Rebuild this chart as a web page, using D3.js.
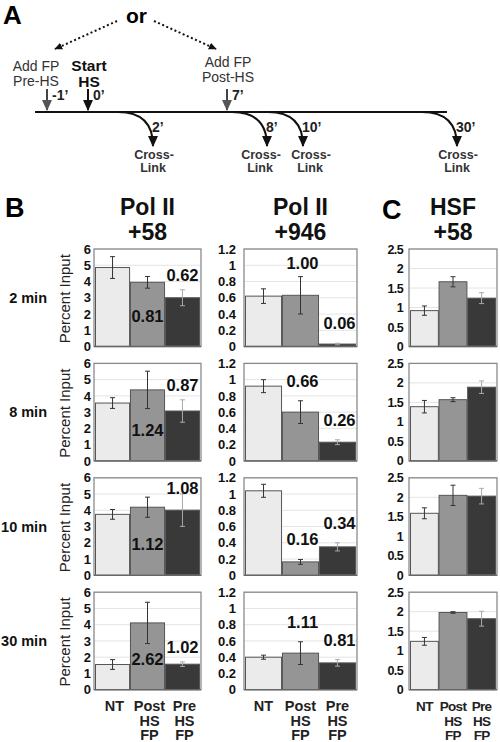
<!DOCTYPE html>
<html><head><meta charset="utf-8">
<script src="https://cdn.jsdelivr.net/npm/d3@7"></script>
<style>body{margin:0;background:#fff} svg{display:block;font-family:"Liberation Sans",Arial,Helvetica,sans-serif}</style>
</head><body>
<svg id="c" width="500" height="742"></svg>
<script>
// ---------- DATA ----------
const categories = ["NT", "Post HS FP", "Pre HS FP"];
const timepoints = ["2 min", "8 min", "10 min", "30 min"];
const panelTitles = [["Pol II", "+58"], ["Pol II", "+946"], ["HSF", "+58"]];

const polII58 = [[4.86, 3.95, 3.00], [3.56, 4.37, 3.07], [3.75, 4.19, 4.01], [1.55, 4.11, 1.57]];
const polII58Err = [[0.67, 0.36, 0.49], [0.33, 1.15, 0.69], [0.30, 0.62, 1.00], [0.30, 1.27, 0.14]];
const polII58Ratio = [["0.81", "0.62"], ["1.24", "0.87"], ["1.12", "1.08"], ["2.62", "1.02"]];

const polII946 = [[0.62, 0.63, 0.03], [0.92, 0.60, 0.23], [1.04, 0.165, 0.35], [0.40, 0.45, 0.33]];
const polII946Err = [[0.09, 0.23, 0.01], [0.08, 0.14, 0.03], [0.08, 0.03, 0.05], [0.025, 0.14, 0.04]];
const polII946Ratio = [["1.00", "0.06"], ["0.66", "0.26"], ["0.16", "0.34"], ["1.11", "0.81"]];

const hsf58 = [[0.92, 1.66, 1.24], [1.39, 1.57, 1.89], [1.59, 2.05, 2.03], [1.24, 1.98, 1.82]];
const hsf58Err = [[0.12, 0.13, 0.14], [0.16, 0.05, 0.16], [0.14, 0.26, 0.20], [0.10, 0.02, 0.19]];

const polII58Ticks = [0, 1, 2, 3, 4, 5, 6];
const polII946Ticks = [0, 0.2, 0.4, 0.6, 0.8, 1, 1.2];
const hsf58Ticks = [0, 0.5, 1, 1.5, 2, 2.5];

// Panel A schematic
const addEvents = [
  { minute: -1, lines: ["Add FP", "Pre-HS"], tag: "-1\u2019", kind: "pre" },
  { minute: 0, lines: ["Start", "HS"], tag: "0\u2019", kind: "start" },
  { minute: 7, lines: ["Add FP", "Post-HS"], tag: "7\u2019", kind: "post" }
];
const crossLinkMinutes = [2, 8, 10, 30];

const barColors = ["#ebebeb", "#959595", "#393939"];

// ---------- DRAW ----------
const svg = d3.select("#c");
const defs = svg.append("defs");
function marker(id, color, size) {
  defs.append("marker").attr("id", id).attr("viewBox", "0 0 10 10")
    .attr("refX", 9).attr("refY", 5).attr("markerWidth", size).attr("markerHeight", size)
    .attr("markerUnits", "userSpaceOnUse").attr("orient", "auto")
    .append("path").attr("d", "M0,0.5 L10,5 L0,9.5 z").attr("fill", color);
}
marker("ahBlack", "#111", 11);
marker("ahGray", "#555", 11);
marker("ahDot", "#111", 8);

// ---- Panel A ----
svg.append("text").attr("x", 3).attr("y", 24).attr("font-size", 26).attr("font-weight", "bold").text("A");
svg.append("text").attr("x", 136.5).attr("y", 23).attr("text-anchor", "middle")
  .attr("font-size", 21).attr("font-weight", "bold").text("or");

const tx = d3.scaleLinear().domain([-1, 0, 2, 7, 8, 10, 30]).range([47, 88, 153, 227, 267, 303, 457]);
const lineY = 112;

// dotted arrows from "or"
svg.append("line").attr("x1", 117).attr("y1", 21).attr("x2", tx(-1) + 8).attr("y2", 49)
  .attr("stroke", "#111").attr("stroke-width", 2).attr("stroke-dasharray", "2,2.5").attr("marker-end", "url(#ahDot)");
svg.append("line").attr("x1", 154).attr("y1", 21).attr("x2", tx(7) - 11).attr("y2", 49)
  .attr("stroke", "#111").attr("stroke-width", 2).attr("stroke-dasharray", "2,2.5").attr("marker-end", "url(#ahDot)");

// timeline
svg.append("line").attr("x1", 35).attr("x2", 447).attr("y1", lineY).attr("y2", lineY)
  .attr("stroke", "#111").attr("stroke-width", 2);

addEvents.forEach(ev => {
  const x = tx(ev.minute);
  const isStart = ev.kind === "start";
  const labX = ev.kind === "pre" ? x - 11 : x + 1;
  const base = ev.kind === "post" ? 67 : 71;
  ev.lines.forEach((t, i) => {
    svg.append("text").attr("x", labX).attr("y", base + i * (isStart ? 15.5 : 14.5))
      .attr("text-anchor", "middle").attr("font-size", isStart ? 15.5 : 14)
      .attr("font-weight", isStart ? "bold" : "normal")
      .attr("fill", isStart ? "#111" : "#333").text(t);
  });
  svg.append("line").attr("x1", x).attr("x2", x).attr("y1", 89).attr("y2", 110)
    .attr("stroke", isStart ? "#111" : "#444").attr("stroke-width", 2)
    .attr("marker-end", isStart ? "url(#ahBlack)" : "url(#ahGray)");
  svg.append("text").attr("x", x + 5).attr("y", 100).attr("font-size", 14)
    .attr("font-weight", "bold").attr("fill", "#222").text(ev.tag);
});

// cross-link curves
const clX = crossLinkMinutes.map(m => tx(m));
const clLabelX = clX.slice();
for (let i = 1; i < clLabelX.length; i++) {
  const gap = clLabelX[i] - clLabelX[i - 1];
  if (gap < 50) { const s = (50 - gap) / 2; clLabelX[i - 1] -= s; clLabelX[i] += s; }
}
crossLinkMinutes.forEach((m, i) => {
  const x1 = clX[i], x0 = x1 - 35;
  svg.append("path").attr("d", `M${x0},${lineY} Q${x1},${lineY} ${x1},${146}`)
    .attr("fill", "none").attr("stroke", "#111").attr("stroke-width", 2).attr("marker-end", "url(#ahBlack)");
  svg.append("text").attr("x", x1 - 1).attr("y", 132).attr("font-size", 14).attr("font-weight", "bold")
    .attr("fill", "#222").text(m + "\u2019");
  ["Cross-", "Link"].forEach((t, j) => {
    svg.append("text").attr("x", clLabelX[i] + (j ? 0 : 1)).attr("y", 159 + j * 13).attr("text-anchor", "middle")
      .attr("font-size", 12.5).attr("font-weight", "bold").attr("fill", "#333").text(t);
  });
});

// ---- Panels B & C ----
svg.append("text").attr("x", 5).attr("y", 217).attr("font-size", 27).attr("font-weight", "bold").text("B");
svg.append("text").attr("x", 382).attr("y", 219).attr("font-size", 27).attr("font-weight", "bold").text("C");

const panels = [
  { values: polII58, errs: polII58Err, ratios: polII58Ratio, ticks: polII58Ticks, box: [94, 201],
    fmt: d3.format("d"), pad: 3, mode: "inside", tickSize: 13, catStyle: { size: 14.5, ls: 0 } },
  { values: polII946, errs: polII946Err, ratios: polII946Ratio, ticks: polII946Ticks, box: [244, 357],
    fmt: d => d3.format("~g")(d), pad: 8, mode: "above", tickSize: 13, catStyle: { size: 14.5, ls: 0 } },
  { values: hsf58, errs: hsf58Err, ratios: null, ticks: hsf58Ticks, box: [409, 497],
    fmt: d => d3.format("~g")(d), pad: 6, mode: null, tickSize: 12.5, catStyle: { size: 13.5, ls: -0.7 } }
];

const rowTop = i => 249 + i * 114.4;
const rowH = 97.5;

panels.forEach((p, pi) => {
  const xs = d3.scaleBand().domain(categories).range([p.box[0] + 1.5, p.box[1] - 1.5]).paddingInner(0.025);
  const cx = (p.box[0] + p.box[1]) / 2;
  // title
  panelTitles[pi].forEach((t, j) => {
    svg.append("text").attr("x", cx).attr("y", 215 + j * 25).attr("text-anchor", "middle")
      .attr("font-size", 23).attr("font-weight", "bold").attr("fill", "#111").text(t);
  });

  timepoints.forEach((tp, ri) => {
    const top = rowTop(ri), bot = top + rowH;
    const y = d3.scaleLinear().domain([0, d3.max(p.ticks)]).range([bot, top]);
    const g = svg.append("g");
    // gridlines
    g.selectAll("line.grid").data(p.ticks.filter(t => t > 0)).join("line")
      .attr("x1", p.box[0]).attr("x2", p.box[1]).attr("y1", d => y(d)).attr("y2", d => y(d))
      .attr("stroke", "#e4e4e4").attr("stroke-width", 1);
    // bars
    g.selectAll("rect.bar").data(p.values[ri]).join("rect")
      .attr("x", (d, i) => xs(categories[i])).attr("width", xs.bandwidth())
      .attr("y", d => y(d)).attr("height", d => bot - y(d))
      .attr("fill", (d, i) => barColors[i]).attr("stroke", "#555").attr("stroke-width", 1);
    // error bars
    p.values[ri].forEach((v, i) => {
      const e = p.errs[ri][i];
      const bx = xs(categories[i]) + xs.bandwidth() / 2;
      const col = i === 2 ? "#aaa" : "#333";
      g.append("line").attr("x1", bx).attr("x2", bx).attr("y1", y(v + e)).attr("y2", y(v - e))
        .attr("stroke", col).attr("stroke-width", 1);
      [v + e, v - e].forEach(ev => g.append("line").attr("x1", bx - 2.5).attr("x2", bx + 2.5)
        .attr("y1", y(ev)).attr("y2", y(ev)).attr("stroke", col).attr("stroke-width", 1));
    });
    // frame
    g.append("rect").attr("x", p.box[0]).attr("y", top).attr("width", p.box[1] - p.box[0]).attr("height", rowH)
      .attr("fill", "none").attr("stroke", "#8a8a8a").attr("stroke-width", 1.3);
    g.append("line").attr("x1", p.box[0]).attr("x2", p.box[1]).attr("y1", bot).attr("y2", bot)
      .attr("stroke", "#666").attr("stroke-width", 1.3);
    // axis
    const ax = svg.append("g").attr("transform", `translate(${p.box[0]},0)`)
      .call(d3.axisLeft(y).tickValues(p.ticks).tickSize(0).tickPadding(p.pad).tickFormat(p.fmt));
    ax.select(".domain").remove();
    ax.selectAll("text").attr("font-size", p.tickSize).attr("font-weight", "bold")
      .attr("fill", "#111").attr("font-family", "'Liberation Sans',Arial,sans-serif")
      .attr("letter-spacing", pi === 2 ? -0.6 : 0);
    // ratio labels
    if (p.ratios) {
      [1, 2].forEach((ci, k) => {
        const bx = xs(categories[ci]) + xs.bandwidth() / 2;
        const v = p.values[ri][ci], e = p.errs[ri][ci];
        let cy;
        if (p.mode === "inside" && ci === 1) cy = y(1.9);
        else if (p.mode === "inside") cy = Math.max(y(v + e) - 15, top + 10);
        else cy = Math.max(y(v + e) - 20, top + 14);
        svg.append("text").attr("x", bx + (p.mode === "above" ? 2 : 0)).attr("y", cy + 6)
          .attr("text-anchor", "middle").attr("font-size", 16.5).attr("font-weight", "bold")
          .attr("fill", "#111").text(p.ratios[ri][k]);
      });
    }
    // row label & y-axis title (first panel only)
    if (pi === 0) {
      svg.append("text").attr("x", 47).attr("y", (top + bot) / 2 + 5).attr("text-anchor", "end")
        .attr("font-size", 14.5).attr("font-weight", "bold").attr("fill", "#111").text(tp);
      svg.append("text").attr("transform", `translate(70,${(top + bot) / 2 + 1}) rotate(-90)`)
        .attr("text-anchor", "middle").attr("font-size", 15).attr("fill", "#222").text("Percent Input");
    }
  });

  // category labels
  categories.forEach(c => {
    const bx = xs(c) + xs.bandwidth() / 2 + (pi === 0 ? 2 : 0);
    c.split(" ").forEach((w, j) => {
      svg.append("text").attr("x", bx).attr("y", 711 + j * 14.5).attr("text-anchor", "middle")
        .attr("font-size", p.catStyle.size).attr("font-weight", "bold").attr("letter-spacing", p.catStyle.ls)
        .attr("fill", "#222").text(w);
    });
  });
});
</script>
</body></html>
